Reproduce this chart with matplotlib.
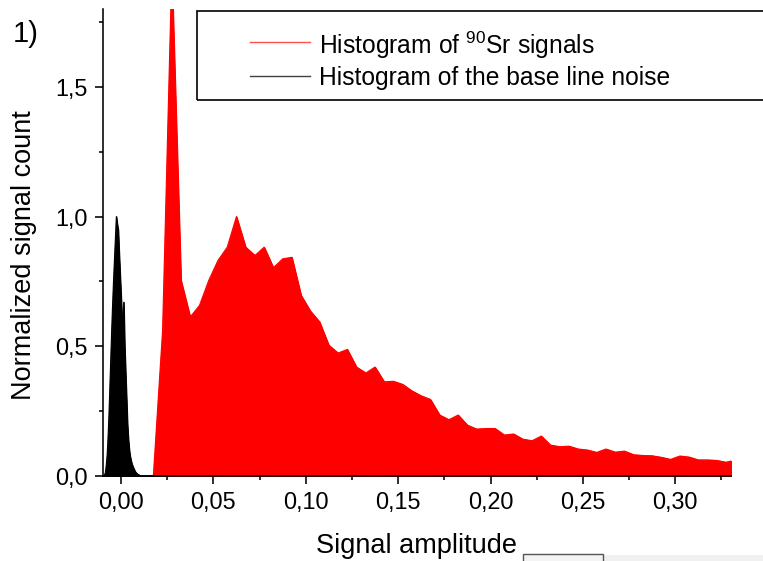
import matplotlib
matplotlib.use("Agg")
import matplotlib.pyplot as plt
from matplotlib.ticker import MultipleLocator, FuncFormatter
from matplotlib.patches import Rectangle
from matplotlib.lines import Line2D

plt.rcParams['font.family'] = ['Liberation Sans', 'DejaVu Sans']
plt.rcParams['mathtext.fontset'] = 'custom'
plt.rcParams['mathtext.rm'] = 'Liberation Sans'
plt.rcParams['mathtext.it'] = 'Liberation Sans:italic'

# Histogram of the 90Sr signals (bin centres, normalised counts)
sr_amplitude = [0.0025, 0.0075, 0.0125, 0.0175, 0.0225, 0.0275, 0.0325, 0.0375,
                0.0425, 0.0475, 0.0525, 0.0575, 0.0625, 0.0675, 0.0725, 0.0775,
                0.0825, 0.0875, 0.0925, 0.0975, 0.1025, 0.1075, 0.1125, 0.1175,
                0.1225, 0.1275, 0.1325, 0.1375, 0.1425, 0.1475, 0.1525, 0.1575,
                0.1625, 0.1675, 0.1725, 0.1775, 0.1825, 0.1875, 0.1925, 0.1975,
                0.2025, 0.2075, 0.2125, 0.2175, 0.2225, 0.2275, 0.2325, 0.2375,
                0.2425, 0.2475, 0.2525, 0.2575, 0.2625, 0.2675, 0.2725, 0.2775,
                0.2825, 0.2875, 0.2925, 0.2975, 0.3025, 0.3075, 0.3125, 0.3175,
                0.3225, 0.3275, 0.3325]
sr_count = [0.0, 0.0, 0.0, 0.0, 0.56, 1.95, 0.754, 0.613,
            0.658, 0.754, 0.831, 0.882, 1.0, 0.882, 0.85, 0.882,
            0.803, 0.837, 0.843, 0.696, 0.636, 0.594, 0.504, 0.474,
            0.488, 0.42, 0.397, 0.42, 0.363, 0.365, 0.353, 0.328,
            0.309, 0.295, 0.235, 0.217, 0.235, 0.196, 0.181, 0.183,
            0.183, 0.158, 0.162, 0.142, 0.136, 0.154, 0.119, 0.113,
            0.115, 0.104, 0.10, 0.091, 0.104, 0.092, 0.096, 0.082,
            0.079, 0.078, 0.072, 0.064, 0.077, 0.073, 0.062, 0.062,
            0.06, 0.053, 0.062]

# Histogram of the base line noise
noise_amplitude = [-0.0095, -0.0090, -0.0085, -0.0080, -0.0075, -0.0070, -0.0065,
                   -0.0060, -0.0055, -0.0050, -0.0045, -0.0040, -0.0035, -0.0030,
                   -0.0025, -0.0020, -0.0015, -0.0010, -0.0005, 0.0000, 0.0005,
                   0.0010, 0.0015, 0.0020, 0.0025, 0.0030, 0.0035, 0.0040,
                   0.0045, 0.0050, 0.0055, 0.0060, 0.0065, 0.0070, 0.0075,
                   0.0080, 0.0090, 0.0100, 0.0110, 0.0150, 0.0200, 0.0250]
noise_count = [0.0, 0.003, 0.012, 0.04, 0.08, 0.15, 0.24,
               0.35, 0.46, 0.57, 0.67, 0.76, 0.84, 0.92,
               1.00, 0.97, 0.95, 0.86, 0.78, 0.70, 0.62,
               0.55, 0.67, 0.50, 0.40, 0.30, 0.20, 0.14,
               0.10, 0.075, 0.058, 0.045, 0.036, 0.028, 0.02,
               0.014, 0.007, 0.003, 0.0, 0.0, 0.0, 0.0]

x_tick_step = 0.05
y_tick_step = 0.5

W, H = 763, 561
fig = plt.figure(figsize=(W / 100, H / 100), dpi=100)
ax = fig.add_axes([102.7 / W, 1 - 476 / H, (730.7 - 102.7) / W, (476 - 9) / H])

ax.fill_between(sr_amplitude, sr_count, 0, color='#ff0000', lw=0.8, zorder=1)
ax.plot(sr_amplitude, sr_count, color='#ff0000', lw=0.8, zorder=1)
ax.fill_between(noise_amplitude, noise_count, 0, color='black', lw=0.8, zorder=1.5)
ax.plot(noise_amplitude, noise_count, color='black', lw=0.8, zorder=1.5)

ax.set_xlim(-0.0099, 0.33)
ax.set_ylim(0, 1.8)

for side in ('top', 'right'):
    ax.spines[side].set_visible(False)
for side in ('left', 'bottom'):
    ax.spines[side].set_linewidth(1.15)

ax.xaxis.set_major_locator(MultipleLocator(x_tick_step))
ax.xaxis.set_minor_locator(MultipleLocator(x_tick_step / 2))
ax.yaxis.set_major_locator(MultipleLocator(y_tick_step))
ax.yaxis.set_minor_locator(MultipleLocator(y_tick_step / 2))
ax.xaxis.set_major_formatter(FuncFormatter(lambda v, p: f"{v:.2f}".replace('.', ',').replace('-0,00', '0,00')))
ax.yaxis.set_major_formatter(FuncFormatter(lambda v, p: f"{v:.1f}".replace('.', ',')))
ax.tick_params(which='major', direction='out', length=5.8, width=1.15, labelsize=16.8, pad=5)
ax.tick_params(which='minor', direction='out', length=3.0, width=1.15)

ax.set_xlabel('Signal amplitude', fontsize=19.5, labelpad=14)
ax.set_ylabel('Normalized signal count', fontsize=19.5)
ax.yaxis.set_label_coords(-0.105, 0.473)

fig.text(13 / W, 1 - 42 / H, '1)', fontsize=21, va='baseline', ha='left')

# Legend box running off the right edge of the canvas
fig.patches.append(Rectangle((197 / W, 1 - 100 / H), (800 - 197) / W, 89 / H,
                             transform=fig.transFigure, fill=False,
                             edgecolor='black', lw=1.2))
fig.lines.append(Line2D([250 / W, 310 / W], [1 - 42 / H] * 2, transform=fig.transFigure,
                        color='#ff5050', lw=1.0))
fig.lines.append(Line2D([250 / W, 310 / W], [1 - 76 / H] * 2, transform=fig.transFigure,
                        color='#404040', lw=1.0))
fig.text(319 / W, 1 - 42 / H, r'Histogram of $^{90}$Sr signals', fontsize=17.7,
         va='center_baseline', ha='left')
fig.text(319 / W, 1 - 76 / H, 'Histogram of the base line noise', fontsize=17.7,
         va='center_baseline', ha='left')

# Strip of a toolbar along the lower edge
fig.patches.append(Rectangle((600 / W, 0), (W - 600) / W, 6 / H, transform=fig.transFigure,
                             facecolor='#f0f0f0', edgecolor='none'))
fig.patches.append(Rectangle((523 / W, -0.01), (603 - 523) / W, 7.5 / H + 0.01,
                             transform=fig.transFigure, facecolor='#f4f4f4',
                             edgecolor='#555555', lw=1.0))

fig.savefig('out.png', dpi=100)
